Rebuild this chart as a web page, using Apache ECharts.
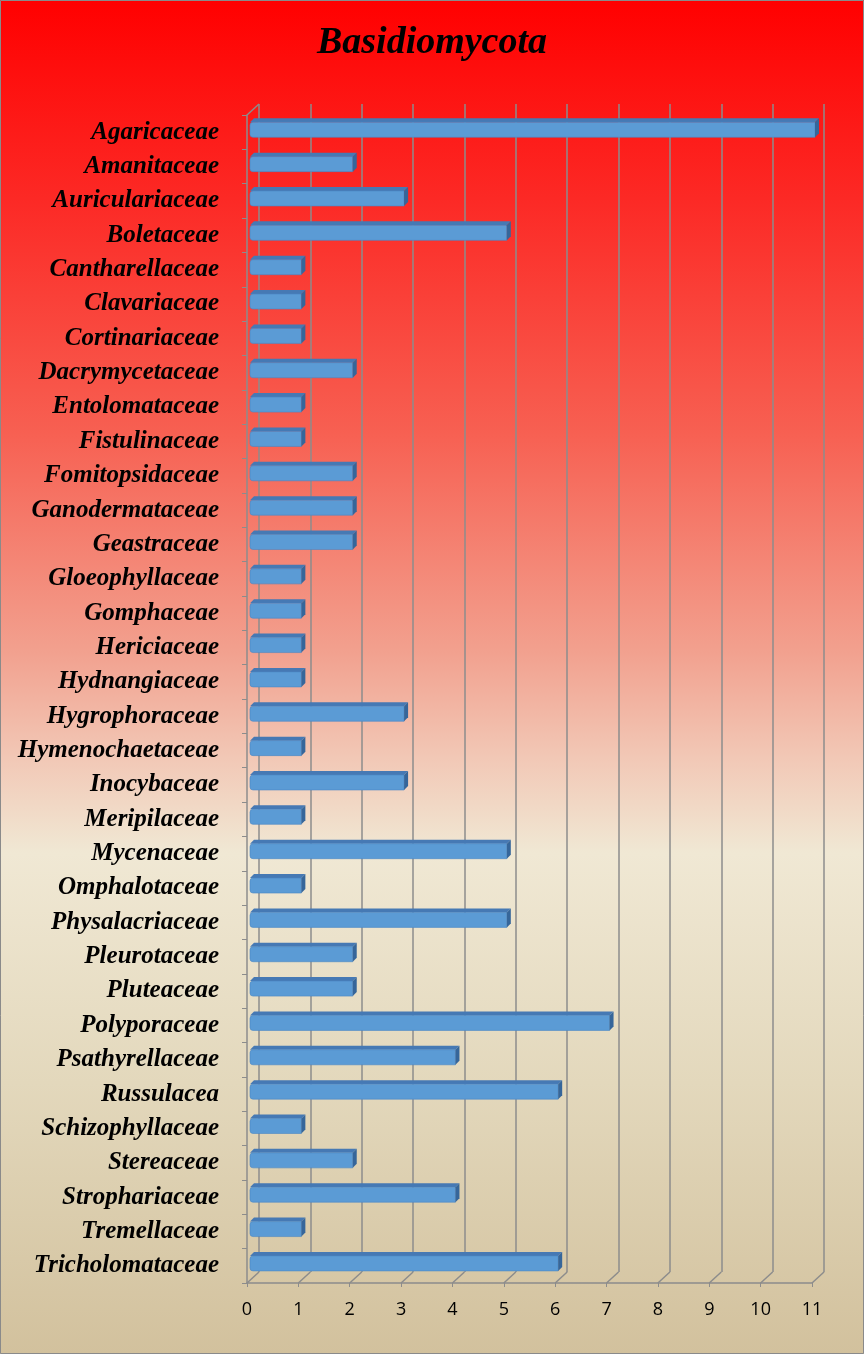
<!DOCTYPE html>
<html>
<head>
<meta charset="utf-8">
<style>
html,body{margin:0;padding:0;}
#c{width:864px;height:1354px;}
</style>
<script src="https://cdn.jsdelivr.net/npm/echarts@6/dist/echarts.min.js"></script>
</head>
<body>
<div id="c"></div>
<script>
const titleText = 'Basidiomycota';
const categories = ['Agaricaceae','Amanitaceae','Auriculariaceae','Boletaceae','Cantharellaceae','Clavariaceae','Cortinariaceae','Dacrymycetaceae','Entolomataceae','Fistulinaceae','Fomitopsidaceae','Ganodermataceae','Geastraceae','Gloeophyllaceae','Gomphaceae','Hericiaceae','Hydnangiaceae','Hygrophoraceae','Hymenochaetaceae','Inocybaceae','Meripilaceae','Mycenaceae','Omphalotaceae','Physalacriaceae','Pleurotaceae','Pluteaceae','Polyporaceae','Psathyrellaceae','Russulacea','Schizophyllaceae','Stereaceae','Strophariaceae','Tremellaceae','Tricholomataceae'];
const values = [11,2,3,5,1,1,1,2,1,1,2,2,2,1,1,1,1,3,1,3,1,5,1,5,2,2,7,4,6,1,2,4,1,6];
const xTicks = [0,1,2,3,4,5,6,7,8,9,10,11];

const DX = 12, DY = -11;        // depth offset of back wall
const GRID = '#8c8c8c';

const chart = echarts.init(document.getElementById('c'));

const option = {
  backgroundColor: {
    type: 'linear', x: 0, y: 0, x2: 0, y2: 1,
    colorStops: [
      {offset: 0, color: '#ff0000'},
      {offset: 0.15, color: '#fc2a26'},
      {offset: 0.32, color: '#f76052'},
      {offset: 0.48, color: '#f2a08e'},
      {offset: 0.56, color: '#f2c8b6'},
      {offset: 0.63, color: '#f0e8d4'},
      {offset: 0.8, color: '#e3d8bc'},
      {offset: 1, color: '#d2c19d'}
    ]
  },
  animation: false,
  title: {
    text: titleText,
    left: 'center',
    top: 19,
    textStyle: {fontFamily: '"Liberation Serif","Times New Roman",serif', fontStyle: 'italic', fontWeight: 'bold', fontSize: 38, color: '#000'}
  },
  graphic: [{
    type: 'rect', shape: {x: 0.5, y: 0.5, width: 863, height: 1353},
    style: {fill: 'none', stroke: '#8a8a8a', lineWidth: 1}, silent: true
  }],
  grid: [
    {left: 247, right: 52, top: 115, bottom: 71},
    {left: 247 + DX, right: 52 - DX, top: 115 + DY, bottom: 71 - DY}
  ],
  xAxis: [
    {
      gridIndex: 0, type: 'value', min: 0, max: 11, interval: 1,
      axisLine: {show: true, lineStyle: {color: GRID, width: 1.5}},
      axisTick: {show: true, length: 4, lineStyle: {color: GRID}},
      splitLine: {show: false},
      axisLabel: {
        margin: 18, fontSize: 18, color: '#000',
        fontFamily: '"Liberation Sans Narrow","Open Sans","Noto Sans",sans-serif',
        formatter: function (v) { return xTicks.indexOf(v) >= 0 ? String(v) : ''; }
      }
    },
    {
      gridIndex: 1, type: 'value', min: 0, max: 11, interval: 1,
      axisLine: {show: false}, axisTick: {show: false}, axisLabel: {show: false},
      splitLine: {show: true, showMinLine: true, showMaxLine: true, lineStyle: {color: GRID, width: 1.5}}
    }
  ],
  yAxis: [
    {
      gridIndex: 0, type: 'category', data: categories, inverse: true,
      axisLine: {show: true, lineStyle: {color: GRID, width: 1.5}},
      axisTick: {show: true, length: 5, lineStyle: {color: GRID}},
      axisLabel: {
        margin: 28, fontSize: 25, color: '#000', fontStyle: 'italic', fontWeight: 'bold',
        fontFamily: '"Liberation Serif","Times New Roman",serif'
      }
    },
    {
      gridIndex: 1, type: 'category', data: categories, inverse: true,
      axisLine: {show: false}, axisTick: {show: false}, axisLabel: {show: false}, splitLine: {show: false}
    }
  ],
  series: [
    {
      // floor diagonals and left wall top edge
      type: 'custom', xAxisIndex: 0, yAxisIndex: 0, silent: true, z: 1,
      data: xTicks.map(function (t) { return [t, 0]; }),
      renderItem: function (params, api) {
        const cs = params.coordSys;
        const x = api.coord([api.value(0), 0])[0];
        const yb = cs.y + cs.height;
        const children = [{
          type: 'line',
          shape: {x1: x, y1: yb, x2: x + DX, y2: yb + DY},
          style: {stroke: GRID, lineWidth: 1.5}
        }];
        if (api.value(0) === 0) {
          children.push({
            type: 'line',
            shape: {x1: x, y1: cs.y, x2: x + DX, y2: cs.y + DY},
            style: {stroke: GRID, lineWidth: 1.5}
          });
        }
        return {type: 'group', children: children};
      }
    },
    {
      // 3D bars
      type: 'custom', xAxisIndex: 0, yAxisIndex: 0, z: 3,
      data: values.map(function (v, i) { return [v, i]; }),
      renderItem: function (params, api) {
        const v = api.value(0), idx = api.value(1);
        const p0 = api.coord([0, idx]);
        const p1 = api.coord([v, idx]);
        const h = 15, d = 4, off = 3;
        const x0 = p0[0] + off, x1 = p1[0] + off;
        const yc = p0[1] - 2.4;
        const yt = yc - h / 2, yb = yc + h / 2;
        return {
          type: 'group',
          children: [
            {type: 'polygon', shape: {points: [[x0, yt], [x1, yt], [x1 + d, yt - d], [x0 + d, yt - d]]},
             style: {fill: '#4679b4'}},
            {type: 'rect', shape: {x: x0, y: yt, width: x1 - x0, height: h, r: [3, 0, 0, 3]},
             style: {fill: '#5b9bd5', stroke: '#4a86c4', lineWidth: 0.6}},
            {type: 'polygon', shape: {points: [[x1, yt], [x1 + d, yt - d], [x1 + d, yb - d], [x1, yb]]},
             style: {fill: '#36669a'}}
          ]
        };
      }
    }
  ]
};
chart.setOption(option);
</script>
</body>
</html>
